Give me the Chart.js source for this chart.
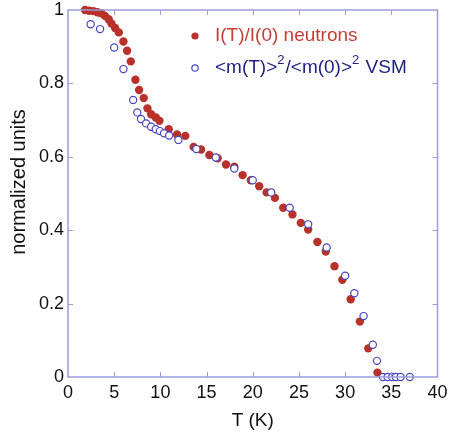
<!DOCTYPE html>
<html>
<head>
<meta charset="utf-8">
<script src="https://cdn.jsdelivr.net/npm/chart.js@4.4.1/dist/chart.umd.min.js"></script>
<style>
  html, body { margin: 0; padding: 0; background: #fff; }
  #wrap { width: 449px; height: 434px; }
</style>
</head>
<body>
<div id="wrap"><canvas id="grafico"></canvas></div>
<script>
// neutrons I(T)/I(0)
const tNeutrones = [1.85, 2.3, 2.75, 3.2, 3.6, 4.0, 4.4, 4.7, 5.1, 5.5, 6.0, 6.4, 6.8, 7.3, 7.7, 8.2, 8.6, 9.0, 9.5, 9.9,
  10.9, 11.8, 12.7, 13.6, 14.4, 15.3, 16.2, 17.1, 18.0, 18.9, 19.8, 20.7, 21.5, 22.4, 23.3, 24.3, 25.2, 26.0, 27.0, 27.9,
  28.85, 29.7, 30.6, 31.6, 32.5, 33.5];
const valNeutrones = [1.0, 0.998, 0.997, 0.994, 0.991, 0.984, 0.975, 0.963, 0.951, 0.939, 0.914, 0.889, 0.860, 0.810, 0.782,
  0.760, 0.732, 0.716, 0.707, 0.698, 0.675, 0.661, 0.657, 0.627, 0.620, 0.605, 0.596, 0.579, 0.573, 0.550, 0.536, 0.520,
  0.503, 0.488, 0.461, 0.443, 0.420, 0.402, 0.368, 0.342, 0.302, 0.265, 0.212, 0.151, 0.078, 0.012];

// VSM <m(T)>^2/<m(0)>^2
const tVSM = [2.45, 3.47, 5.0, 6.0, 7.05, 7.5, 7.9, 8.45, 9.0, 9.5, 9.95, 10.4, 10.95, 11.95, 13.9, 16.0, 18.0, 20.0, 22.0,
  24.0, 26.0, 28.0, 30.0, 31.0, 32.0, 33.0, 33.45, 34.1, 34.6, 35.1, 35.5, 36.0, 37.0];
const valVSM = [0.961, 0.948, 0.898, 0.839, 0.755, 0.721, 0.703, 0.691, 0.682, 0.675, 0.670, 0.664, 0.658, 0.646, 0.621,
  0.598, 0.568, 0.536, 0.503, 0.461, 0.416, 0.353, 0.276, 0.228, 0.166, 0.088, 0.044, 0, 0, 0, 0, 0, 0];

const ticksX = [0, 5, 10, 15, 20, 25, 30, 35, 40];
const ticksY = [0, 0.2, 0.4, 0.6, 0.8, 1];

const rojo = '#b8322b';
const azul = '#4747bd';
const marco = '#9d9dda';
const fuente = 'Liberation Sans, Arial, sans-serif';

const aPuntos = (xs, ys) => xs.map((x, i) => ({ x: x, y: ys[i] }));

// marco completo con marcas hacia dentro
const marcoPlugin = {
  id: 'marco',
  afterDraw(chart) {
    const { ctx, chartArea: a, scales } = chart;
    ctx.save();
    ctx.strokeStyle = marco;
    ctx.lineWidth = 1.5;
    ctx.strokeRect(a.left, a.top, a.right - a.left, a.bottom - a.top);
    ctx.lineWidth = 1;
    const L = 5;
    ticksX.slice(1, -1).forEach(v => {
      const px = Math.round(scales.x.getPixelForValue(v)) + 0.5;
      ctx.beginPath();
      ctx.moveTo(px, a.bottom); ctx.lineTo(px, a.bottom - L);
      ctx.moveTo(px, a.top); ctx.lineTo(px, a.top + L);
      ctx.stroke();
    });
    ticksY.slice(1, -1).forEach(v => {
      const py = Math.round(scales.y.getPixelForValue(v)) + 0.5;
      ctx.beginPath();
      ctx.moveTo(a.left, py); ctx.lineTo(a.left + L, py);
      ctx.moveTo(a.right, py); ctx.lineTo(a.right - L, py);
      ctx.stroke();
    });
    // titulo del eje y, algo por encima del centro como en el original
    ctx.fillStyle = '#111';
    ctx.font = '20px ' + fuente;
    ctx.textAlign = 'center';
    ctx.textBaseline = 'middle';
    ctx.translate(19, 182);
    ctx.rotate(-Math.PI / 2);
    ctx.fillText('normalized units', 0, 0);
    ctx.restore();
  }
};

// leyenda con superindices
const leyendaPlugin = {
  id: 'leyenda',
  afterDatasetsDraw(chart) {
    const ctx = chart.ctx;
    ctx.save();
    ctx.textBaseline = 'middle';
    ctx.textAlign = 'left';
    // neutrones
    ctx.fillStyle = rojo;
    ctx.beginPath(); ctx.arc(195, 36, 3.6, 0, Math.PI * 2); ctx.fill();
    ctx.fillStyle = '#c53f35';
    ctx.font = '19px ' + fuente;
    ctx.fillText('I(T)/I(0) neutrons', 215, 36);
    // VSM
    ctx.strokeStyle = azul;
    ctx.lineWidth = 1.2;
    ctx.fillStyle = '#fff';
    ctx.beginPath(); ctx.arc(195, 68, 3.2, 0, Math.PI * 2); ctx.fill(); ctx.stroke();
    ctx.fillStyle = '#1f1f80';
    const partes = [['<m(T)>', false], ['2', true], ['/<m(0)>', false], ['2', true], [' VSM', false]];
    let x = 215;
    partes.forEach(([txt, sup]) => {
      ctx.font = (sup ? '13px ' : '19px ') + fuente;
      ctx.fillText(txt, x, sup ? 60 : 68);
      x += ctx.measureText(txt).width + (sup ? 1 : 0);
    });
    ctx.restore();
  }
};

new Chart(document.getElementById('grafico').getContext('2d'), {
  type: 'scatter',
  data: {
    datasets: [
      {
        label: '<m(T)>2/<m(0)>2 VSM',
        data: aPuntos(tVSM, valVSM),
        backgroundColor: '#ffffff',
        borderColor: azul,
        borderWidth: 1.2,
        pointRadius: 3.6,
        clip: false
      },
      {
        label: 'I(T)/I(0) neutrons',
        data: aPuntos(tNeutrones, valNeutrones),
        backgroundColor: rojo,
        borderColor: rojo,
        borderWidth: 0,
        pointRadius: 4.2,
        clip: false
      }
    ]
  },
  options: {
    responsive: true,
    maintainAspectRatio: false,
    animation: false,
    layout: { padding: { top: 10, right: 11.5, left: 0, bottom: 0 } },
    plugins: {
      legend: { display: false },
      tooltip: { enabled: false }
    },
    scales: {
      x: {
        type: 'linear',
        min: 0,
        max: 40,
        afterBuildTicks: s => { s.ticks = ticksX.map(v => ({ value: v })); },
        afterFit: s => { s.height = 57; s.paddingLeft = 0; s.paddingRight = 0; },
        grid: { display: false, drawTicks: false },
        border: { display: false },
        ticks: { color: '#111', padding: 5, font: { family: fuente, size: 18 } },
        title: { display: true, text: 'T (K)', color: '#111', padding: { bottom: 2 }, font: { family: fuente, size: 19 } }
      },
      y: {
        type: 'linear',
        min: 0,
        max: 1,
        afterBuildTicks: s => { s.ticks = ticksY.map(v => ({ value: v })); },
        afterFit: s => { s.width = 68; s.paddingTop = 0; s.paddingBottom = 0; },
        grid: { display: false, drawTicks: false },
        border: { display: false },
        ticks: { color: '#111', padding: 4, font: { family: fuente, size: 18 }, callback: v => String(v) },
        title: { display: false }
      }
    }
  },
  plugins: [marcoPlugin, leyendaPlugin]
});
</script>
</body>
</html>
